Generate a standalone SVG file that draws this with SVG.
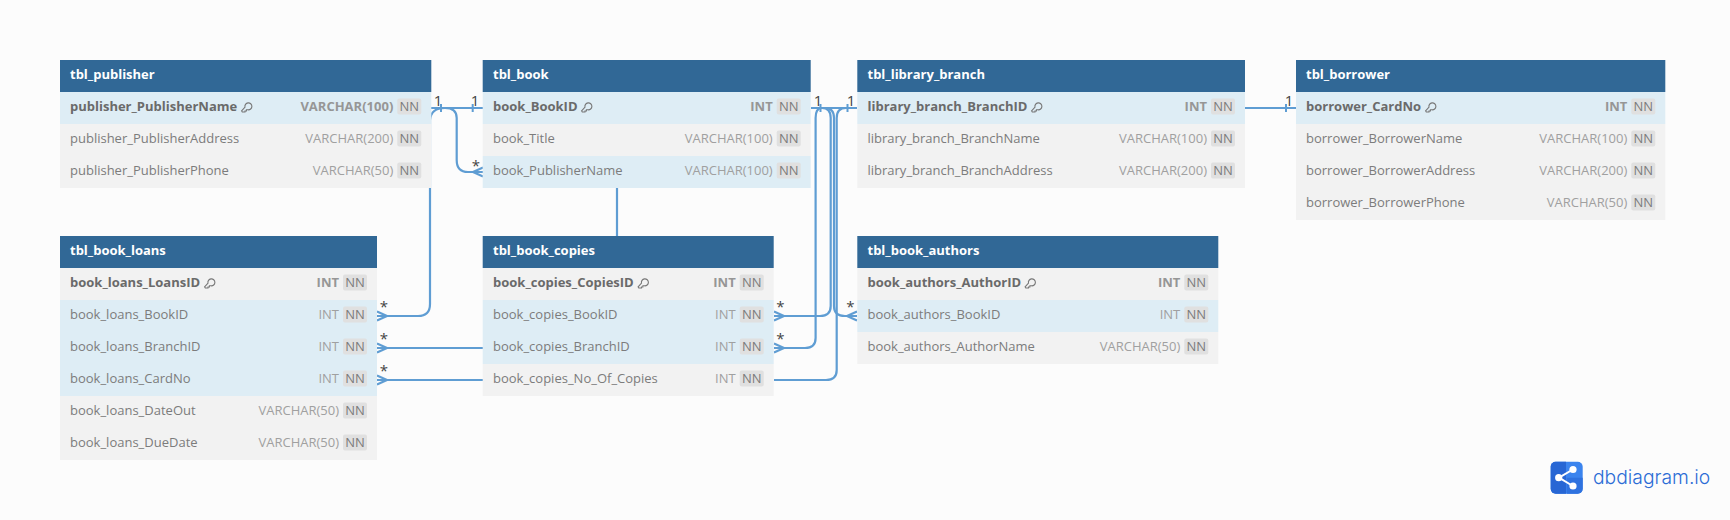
<svg xmlns="http://www.w3.org/2000/svg" width="1730" height="520" viewBox="0 0 1730 520">
<style>
text{font-family:"Open Sans","Noto Sans","Liberation Sans",sans-serif;font-size:13px}
.hd{fill:#316896}
.r{fill:#f2f2f2}
.h{fill:#deedf5}
.t{fill:#fff;font-weight:700}
.n{fill:#7c7c7c}
.pk{fill:#6a6a6a;font-weight:700}
.ty{fill:#a0a0a0;text-anchor:end}
.tp{fill:#969696;font-weight:700;text-anchor:end}
.b{fill:#e0e0e0}
.nn{fill:#7c7c7c;text-anchor:middle}
.c{fill:none;stroke:#5f9dd3;stroke-width:2.2}
.tk{fill:none;stroke:#5f9dd3;stroke-width:2}
.l{fill:#444;font-size:15px;text-anchor:middle}
.s{fill:#444;font-size:15px;text-anchor:middle}
.kk{fill:none;stroke:#777;stroke-width:1.1}
</style>
<defs>
<g id="key"><path class="kk" d="M.6 8.9 4 5.2A3.5 3.5 0 1 1 6.9 7.8L5.4 7.8 5.4 9 4 9 4 10 1.3 10Z"/></g>
<g id="crowR"><path class="c" d="M10 0 0-4.5M10 0 0 4.5"/></g>
<g id="crowL"><path class="c" d="M-10 0 0-4.5M-10 0 0 4.5"/></g>
</defs>
<rect width="1730" height="520" fill="#fcfcfc"/>
<g id="connectors">
<path class="c" d="M431 108H483"/>
<path class="c" d="M445 108Q456.7 108 456.7 118V160Q456.7 172 468 172H483"/>
<path class="c" d="M445 108Q431 108 430 120V304Q430 316 418 316H377"/>
<path class="c" d="M617 186V238"/>
<path class="c" d="M377 348H483"/>
<path class="c" d="M377 380H483"/>
<path class="c" d="M811 108H857"/>
<path class="c" d="M822 108Q815.6 108 815.6 118V338Q815.6 348 805 348H774"/>
<path class="c" d="M822 108Q830.7 108 830.7 118V306Q830.7 316 820 316H774"/>
<path class="c" d="M825 108Q834 108 834 118V306Q834 316 845 316H857"/>
<path class="c" d="M846 108Q836.7 108 836.7 118V370Q836.7 380 826 380H774"/>
<path class="c" d="M1245 108H1296"/>
<g id="ends">
<path class="tk" d="M441 104V112M472.7 104V112M820.5 104V112M847.5 104V112M1286 104V112"/>
<use href="#crowL" x="483" y="172"/>
<use href="#crowR" x="377" y="316"/>
<use href="#crowR" x="377" y="348"/>
<use href="#crowR" x="377" y="380"/>
<use href="#crowR" x="774" y="316"/>
<use href="#crowR" x="774" y="348"/>
<use href="#crowL" x="857" y="316"/>
<text class="l" x="438" y="105.5">1</text>
<text class="l" x="475" y="105.5">1</text>
<text class="l" x="818" y="105.5">1</text>
<text class="l" x="851" y="105.5">1</text>
<text class="l" x="1289" y="105.5">1</text>
<text class="s" x="476" y="171">*</text>
<text class="s" x="384" y="312">*</text>
<text class="s" x="384" y="344">*</text>
<text class="s" x="384" y="376">*</text>
<text class="s" x="780.5" y="312">*</text>
<text class="s" x="780.5" y="344">*</text>
<text class="s" x="850.5" y="312">*</text>
</g>
</g>
<g id="tbl_publisher">
<rect class="hd" x="60" y="60" width="371.3" height="32"/>
<rect class="h" x="60" y="92" width="371.3" height="32"/>
<rect class="r" x="60" y="124" width="371.3" height="64"/>
<text class="t" x="70" y="79">tbl_publisher</text>
<text class="pk" x="70" y="111">publisher_PublisherName</text><use href="#key" x="241" y="102"/>
<text class="tp" x="393.3" y="111">VARCHAR(100)</text><rect class="b" x="397.3" y="98.5" width="24" height="16" rx="2"/><text class="nn" x="409.3" y="111">NN</text>
<text class="n" x="70" y="143">publisher_PublisherAddress</text>
<text class="ty" x="393.3" y="143">VARCHAR(200)</text><rect class="b" x="397.3" y="130.5" width="24" height="16" rx="2"/><text class="nn" x="409.3" y="143">NN</text>
<text class="n" x="70" y="175">publisher_PublisherPhone</text>
<text class="ty" x="393.3" y="175">VARCHAR(50)</text><rect class="b" x="397.3" y="162.5" width="24" height="16" rx="2"/><text class="nn" x="409.3" y="175">NN</text>
</g>
<g id="tbl_book">
<rect class="hd" x="482.7" y="60" width="328" height="32"/>
<rect class="h" x="482.7" y="92" width="328" height="32"/>
<rect class="r" x="482.7" y="124" width="328" height="32"/>
<rect class="h" x="482.7" y="156" width="328" height="32"/>
<text class="t" x="493" y="79">tbl_book</text>
<text class="pk" x="493" y="111">book_BookID</text><use href="#key" x="581" y="102"/>
<text class="tp" x="772.7" y="111">INT</text><rect class="b" x="776.7" y="98.5" width="24" height="16" rx="2"/><text class="nn" x="788.7" y="111">NN</text>
<text class="n" x="493" y="143">book_Title</text>
<text class="ty" x="772.7" y="143">VARCHAR(100)</text><rect class="b" x="776.7" y="130.5" width="24" height="16" rx="2"/><text class="nn" x="788.7" y="143">NN</text>
<text class="n" x="493" y="175">book_PublisherName</text>
<text class="ty" x="772.7" y="175">VARCHAR(100)</text><rect class="b" x="776.7" y="162.5" width="24" height="16" rx="2"/><text class="nn" x="788.7" y="175">NN</text>
</g>
<g id="tbl_library_branch">
<rect class="hd" x="857.3" y="60" width="387.7" height="32"/>
<rect class="h" x="857.3" y="92" width="387.7" height="32"/>
<rect class="r" x="857.3" y="124" width="387.7" height="64"/>
<text class="t" x="867.5" y="79">tbl_library_branch</text>
<text class="pk" x="867.5" y="111">library_branch_BranchID</text><use href="#key" x="1031" y="102"/>
<text class="tp" x="1207" y="111">INT</text><rect class="b" x="1211" y="98.5" width="24" height="16" rx="2"/><text class="nn" x="1223" y="111">NN</text>
<text class="n" x="867.5" y="143">library_branch_BranchName</text>
<text class="ty" x="1207" y="143">VARCHAR(100)</text><rect class="b" x="1211" y="130.5" width="24" height="16" rx="2"/><text class="nn" x="1223" y="143">NN</text>
<text class="n" x="867.5" y="175">library_branch_BranchAddress</text>
<text class="ty" x="1207" y="175">VARCHAR(200)</text><rect class="b" x="1211" y="162.5" width="24" height="16" rx="2"/><text class="nn" x="1223" y="175">NN</text>
</g>
<g id="tbl_borrower">
<rect class="hd" x="1296" y="60" width="369.3" height="32"/>
<rect class="h" x="1296" y="92" width="369.3" height="32"/>
<rect class="r" x="1296" y="124" width="369.3" height="96"/>
<text class="t" x="1306" y="79">tbl_borrower</text>
<text class="pk" x="1306" y="111">borrower_CardNo</text><use href="#key" x="1425" y="102"/>
<text class="tp" x="1627.3" y="111">INT</text><rect class="b" x="1631.3" y="98.5" width="24" height="16" rx="2"/><text class="nn" x="1643.3" y="111">NN</text>
<text class="n" x="1306" y="143">borrower_BorrowerName</text>
<text class="ty" x="1627.3" y="143">VARCHAR(100)</text><rect class="b" x="1631.3" y="130.5" width="24" height="16" rx="2"/><text class="nn" x="1643.3" y="143">NN</text>
<text class="n" x="1306" y="175">borrower_BorrowerAddress</text>
<text class="ty" x="1627.3" y="175">VARCHAR(200)</text><rect class="b" x="1631.3" y="162.5" width="24" height="16" rx="2"/><text class="nn" x="1643.3" y="175">NN</text>
<text class="n" x="1306" y="207">borrower_BorrowerPhone</text>
<text class="ty" x="1627.3" y="207">VARCHAR(50)</text><rect class="b" x="1631.3" y="194.5" width="24" height="16" rx="2"/><text class="nn" x="1643.3" y="207">NN</text>
</g>
<g id="tbl_book_loans">
<rect class="hd" x="60" y="236" width="317" height="32"/>
<rect class="r" x="60" y="268" width="317" height="32"/>
<rect class="h" x="60" y="300" width="317" height="96"/>
<rect class="r" x="60" y="396" width="317" height="64"/>
<text class="t" x="70" y="255">tbl_book_loans</text>
<text class="pk" x="70" y="287">book_loans_LoansID</text><use href="#key" x="204" y="278"/>
<text class="tp" x="339" y="287">INT</text><rect class="b" x="343" y="274.5" width="24" height="16" rx="2"/><text class="nn" x="355" y="287">NN</text>
<text class="n" x="70" y="319">book_loans_BookID</text>
<text class="ty" x="339" y="319">INT</text><rect class="b" x="343" y="306.5" width="24" height="16" rx="2"/><text class="nn" x="355" y="319">NN</text>
<text class="n" x="70" y="351">book_loans_BranchID</text>
<text class="ty" x="339" y="351">INT</text><rect class="b" x="343" y="338.5" width="24" height="16" rx="2"/><text class="nn" x="355" y="351">NN</text>
<text class="n" x="70" y="383">book_loans_CardNo</text>
<text class="ty" x="339" y="383">INT</text><rect class="b" x="343" y="370.5" width="24" height="16" rx="2"/><text class="nn" x="355" y="383">NN</text>
<text class="n" x="70" y="415">book_loans_DateOut</text>
<text class="ty" x="339" y="415">VARCHAR(50)</text><rect class="b" x="343" y="402.5" width="24" height="16" rx="2"/><text class="nn" x="355" y="415">NN</text>
<text class="n" x="70" y="447">book_loans_DueDate</text>
<text class="ty" x="339" y="447">VARCHAR(50)</text><rect class="b" x="343" y="434.5" width="24" height="16" rx="2"/><text class="nn" x="355" y="447">NN</text>
</g>
<g id="tbl_book_copies">
<rect class="hd" x="482.7" y="236" width="291" height="32"/>
<rect class="r" x="482.7" y="268" width="291" height="32"/>
<rect class="h" x="482.7" y="300" width="291" height="64"/>
<rect class="r" x="482.7" y="364" width="291" height="32"/>
<text class="t" x="493" y="255">tbl_book_copies</text>
<text class="pk" x="493" y="287">book_copies_CopiesID</text><use href="#key" x="637.5" y="278"/>
<text class="tp" x="735.7" y="287">INT</text><rect class="b" x="739.7" y="274.5" width="24" height="16" rx="2"/><text class="nn" x="751.7" y="287">NN</text>
<text class="n" x="493" y="319">book_copies_BookID</text>
<text class="ty" x="735.7" y="319">INT</text><rect class="b" x="739.7" y="306.5" width="24" height="16" rx="2"/><text class="nn" x="751.7" y="319">NN</text>
<text class="n" x="493" y="351">book_copies_BranchID</text>
<text class="ty" x="735.7" y="351">INT</text><rect class="b" x="739.7" y="338.5" width="24" height="16" rx="2"/><text class="nn" x="751.7" y="351">NN</text>
<text class="n" x="493" y="383">book_copies_No_Of_Copies</text>
<text class="ty" x="735.7" y="383">INT</text><rect class="b" x="739.7" y="370.5" width="24" height="16" rx="2"/><text class="nn" x="751.7" y="383">NN</text>
</g>
<g id="tbl_book_authors">
<rect class="hd" x="857.3" y="236" width="361" height="32"/>
<rect class="r" x="857.3" y="268" width="361" height="32"/>
<rect class="h" x="857.3" y="300" width="361" height="32"/>
<rect class="r" x="857.3" y="332" width="361" height="32"/>
<text class="t" x="867.5" y="255">tbl_book_authors</text>
<text class="pk" x="867.5" y="287">book_authors_AuthorID</text><use href="#key" x="1024.5" y="278"/>
<text class="tp" x="1180.3" y="287">INT</text><rect class="b" x="1184.3" y="274.5" width="24" height="16" rx="2"/><text class="nn" x="1196.3" y="287">NN</text>
<text class="n" x="867.5" y="319">book_authors_BookID</text>
<text class="ty" x="1180.3" y="319">INT</text><rect class="b" x="1184.3" y="306.5" width="24" height="16" rx="2"/><text class="nn" x="1196.3" y="319">NN</text>
<text class="n" x="867.5" y="351">book_authors_AuthorName</text>
<text class="ty" x="1180.3" y="351">VARCHAR(50)</text><rect class="b" x="1184.3" y="338.5" width="24" height="16" rx="2"/><text class="nn" x="1196.3" y="351">NN</text>
</g>
<g id="logo">
<rect x="1550.7" y="461.7" width="32" height="32" rx="5" fill="#3b84ee"/>
<path d="M1566 461.7H1555.7a5 5 0 0 0-5 5V488.7a5 5 0 0 0 5 5H1566Z" fill="#2766d4"/>
<path d="M1566.7 477.7H1582.7V488.7a5 5 0 0 1-5 5H1566.7Z" fill="#2f72df"/>
<path d="M1559 477.7 1572 470M1559 477.7 1572 485.5" stroke="#fff" stroke-width="2" fill="none"/>
<circle cx="1558.7" cy="477.7" r="3.6" fill="#fff"/><circle cx="1573" cy="469.5" r="3.6" fill="#fff"/><circle cx="1573" cy="486" r="3.6" fill="#fff"/>
<text x="1593" y="484" style="font-family:Inter,'Noto Sans',sans-serif;font-size:19.3px;font-weight:300" fill="#2b6cd6">dbdiagram.io</text>
</g>
</svg>
